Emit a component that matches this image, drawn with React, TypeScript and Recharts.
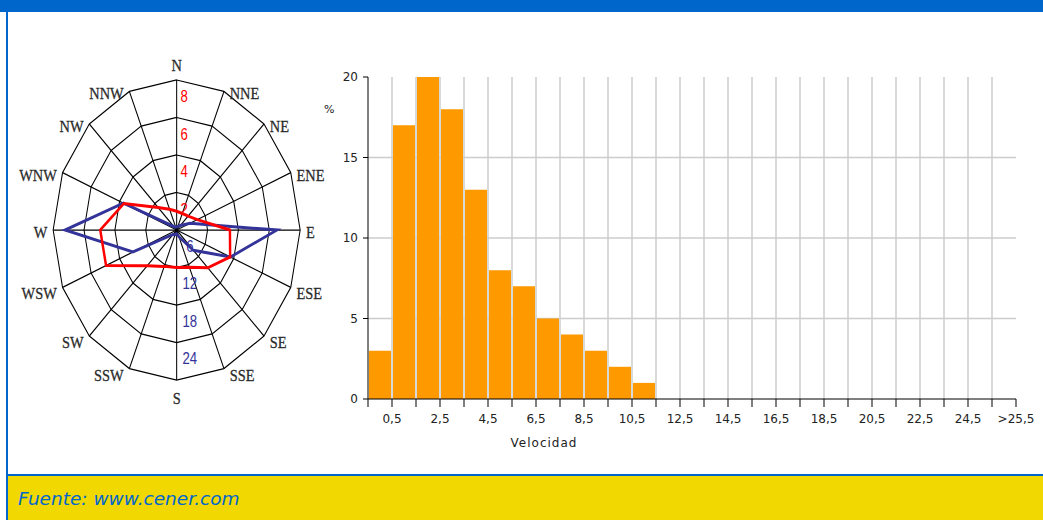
import React from "react"
import {
  Bar,
  BarChart,
  CartesianGrid,
  PolarAngleAxis,
  PolarGrid,
  PolarRadiusAxis,
  Radar,
  RadarChart,
  XAxis,
  YAxis,
} from "recharts"

// rosa de vientos
const direcciones = ["N", "NNE", "NE", "ENE", "E", "ESE", "SE", "SSE", "S", "SSW", "SW", "WSW", "W", "WNW", "NW", "NNW"]
const frecuencia = [1.0, 0.95, 1.05, 1.45, 3.45, 3.75, 2.85, 2.15, 2.0, 2.1, 2.7, 4.95, 4.95, 3.7, 1.7, 1.2] // %
const velocidadMedia = [0.5, 0.6, 1.0, 2.8, 19.5, 11.3, 4.6, 1.2, 0.6, 0.8, 1.0, 9.2, 21.7, 11.2, 0.8, 0.5]
const frecuenciaDomain = [0, 8]
const velocidadDomain = [0, 24]

// histograma de velocidad
const histPct = [3, 17, 20, 18, 13, 8, 7, 5, 4, 3, 2, 1, 0, 0, 0, 0, 0, 0, 0, 0, 0, 0, 0, 0, 0, 0, 0]
const histTicksX = [0, 1, 2, 3, 4, 5, 6, 7, 8, 9, 10, 11, 12, 13, 14, 15, 16, 17, 18, 19, 20, 21, 22, 23, 24, 25, 26, 27]
const histLabels = ["0,5", "2,5", "4,5", "6,5", "8,5", "10,5", "12,5", "14,5", "16,5", "18,5", "20,5", "22,5", "24,5", ">25,5"]
const histTicksY = [0, 5, 10, 15, 20]

const roseData = direcciones.map((dir, i) => ({ dir, frec: frecuencia[i], vel: velocidadMedia[i] }))
const histData = histPct.map((pct, i) => ({ bin: i + 0.5, pct }))

const BLUE = "#0066cc"
const RAD = Math.PI / 180
const ROSE_CX = 200
const ROSE_CY = 230
const ROSE_R = 150

function AngleTick(props: any) {
  const { payload } = props
  const cos = Math.cos(-payload.coordinate * RAD)
  const sin = Math.sin(-payload.coordinate * RAD)
  const vx = ROSE_CX + cos * ROSE_R
  const vy = ROSE_CY + sin * ROSE_R
  let x = vx
  let y = vy + (sin > 0.1 ? 6 : 2)
  let anchor = "middle"
  if (Math.abs(cos) < 0.001) {
    y = sin < 0 ? vy - 15 : vy + 18
  } else {
    anchor = cos > 0 ? "start" : "end"
    x = vx + (cos > 0 ? 7 : -7)
  }
  return (
    <text
      x={x}
      y={y}
      textAnchor={anchor}
      dominantBaseline="central"
      fontFamily="Liberation Serif"
      fontSize={17.5}
      fill="#2a2a2a"
      stroke="#2a2a2a"
      strokeWidth={0.3}
    >
      {payload.value}
    </text>
  )
}

function FrecTick(props: any) {
  const { x, y, payload } = props
  if (payload.value === 0) return <g />
  return (
    <text x={x + 9} y={y + 17} textAnchor="middle" dominantBaseline="central" fontFamily="Liberation Sans" fontSize={16} fill="#ff0000">
      {payload.value}
    </text>
  )
}

function VelTick(props: any) {
  const { x, y, payload } = props
  if (payload.value === 0) return <g />
  return (
    <text x={x + 16} y={y - 21} textAnchor="middle" dominantBaseline="central" fontFamily="Liberation Sans" fontSize={16} fill="#333399">
      {payload.value}
    </text>
  )
}

const axisFont = { fontFamily: "DejaVu Sans", fontSize: 12, fill: "#222" }

export default function App() {
  return (
    <div style={{ position: "fixed", left: 0, top: 0, width: 1043, height: 520, background: "#fff", overflow: "hidden" }}>
      <div style={{ position: "absolute", left: 0, top: 0, width: 1043, height: 12, background: BLUE }} />
      <div style={{ position: "absolute", left: 6, top: 0, width: 2, height: 520, background: BLUE }} />
      <div style={{ position: "absolute", left: 6, top: 474, width: 1037, height: 2, background: BLUE }} />
      <div style={{ position: "absolute", left: 8, top: 476, width: 1035, height: 44, background: "#f0d800" }} />
      <div
        style={{
          position: "absolute",
          left: 18,
          top: 486,
          fontFamily: "DejaVu Sans",
          fontStyle: "italic",
          fontSize: 18.5,
          color: BLUE,
          lineHeight: "26px",
        }}
      >
        Fuente: www.cener.com
      </div>

      <div style={{ position: "absolute", left: 12, top: 0, transform: "scaleX(0.8233)", transformOrigin: "0 0" }}>
        <RadarChart
          width={400}
          height={420}
          data={roseData}
          cx={ROSE_CX}
          cy={ROSE_CY}
          outerRadius={ROSE_R}
          margin={{ top: 0, right: 0, bottom: 0, left: 0 }}
        >
          <PolarGrid gridType="polygon" stroke="#000" strokeWidth={1.25} />
          <PolarAngleAxis dataKey="dir" tick={(p: any) => <AngleTick {...p} />} tickLine={false} axisLine={false} />
          <PolarRadiusAxis angle={90} domain={frecuenciaDomain} tickCount={5} axisLine={false} tick={(p: any) => <FrecTick {...p} />} />
          <PolarRadiusAxis radiusAxisId="vel" angle={270} domain={velocidadDomain} tickCount={5} axisLine={false} tick={(p: any) => <VelTick {...p} />} />
          <Radar dataKey="vel" radiusAxisId="vel" stroke="#333399" strokeWidth={3} fill="none" dot={false} isAnimationActive={false} />
          <Radar dataKey="frec" stroke="#ff0000" strokeWidth={3} fill="none" dot={false} isAnimationActive={false} />
        </RadarChart>
      </div>

      <div style={{ position: "absolute", left: 300, top: 0 }}>
        <BarChart width={743} height={470} data={histData} margin={{ top: 77, right: 27, bottom: 41, left: 28 }}>
          <CartesianGrid
            stroke="#cccccc"
            strokeWidth={1.5}
            horizontalValues={histTicksY.filter((v) => v > 0 && v < 20)}
            verticalValues={histTicksX.filter((v) => v > 0 && v < 27)}
          />
          <XAxis
            type="number"
            dataKey="bin"
            domain={[0, 27]}
            ticks={histTicksX}
            interval={0}
            stroke="#000"
            tickSize={8}
            tickMargin={7}
            tick={axisFont}
            tickFormatter={(v: number) => (v % 2 === 1 ? histLabels[(v - 1) / 2] : "")}
          />
          <YAxis
            width={40}
            domain={[0, 20]}
            ticks={histTicksY}
            stroke="#000"
            tickSize={5}
            tickMargin={5}
            tick={axisFont}
          />
          <Bar dataKey="pct" fill="#ff9900" barSize={22} isAnimationActive={false} />
        </BarChart>
      </div>

      <div style={{ position: "absolute", left: 324, top: 103, fontFamily: "DejaVu Sans", fontSize: 11, color: "#222" }}>%</div>
      <div
        style={{
          position: "absolute",
          left: 544,
          top: 443,
          transform: "translate(-50%, -50%)",
          fontFamily: "DejaVu Sans",
          fontSize: 12,
          letterSpacing: 1,
          color: "#222",
          whiteSpace: "nowrap",
        }}
      >
        Velocidad
      </div>
    </div>
  )
}
